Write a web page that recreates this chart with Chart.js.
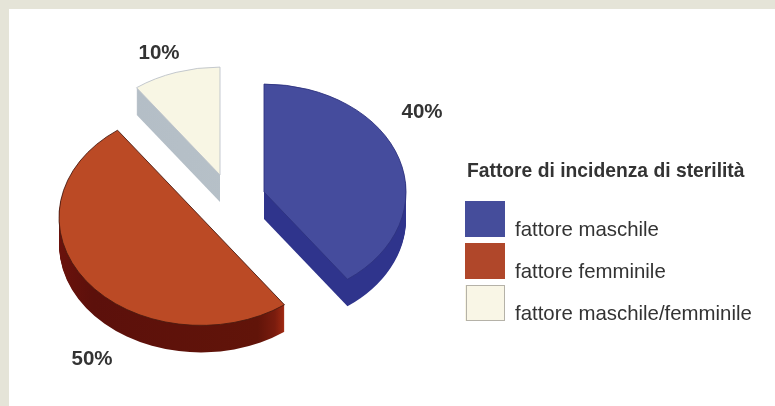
<!DOCTYPE html>
<html>
<head>
<meta charset="utf-8">
<title>Fattore di incidenza di sterilità</title>
<script src="https://cdn.jsdelivr.net/npm/chart.js@4/dist/chart.umd.min.js"></script>
<style>
  html, body { margin: 0; padding: 0; background: #e5e4d8; overflow: hidden; }
  #chart { position: absolute; left: 9px; top: 9px; background: #fff; }
</style>
</head>
<body>
<canvas id="chart" width="766" height="397"></canvas>
<script>
var chartTitle = 'Fattore di incidenza di sterilità';
var categories = ['fattore maschile', 'fattore femminile', 'fattore maschile/femminile'];
var values = [40, 50, 10];

var topColors = ['#454c9d', '#bb4a25', '#f8f6e4'];
var edgeColors = ['#2f3380', '#4a1a10', '#bcc2ca'];
var legendColors = ['#454d9b', '#b0472a', '#f9f6e6'];

// slice look, not data: squash of the pie, rim height, how far each slice is pulled out
var squash = 0.76;
var rim = 27;
var pull = [[32, -8], [-31, 17.5], [-12, -25]];
// label anchors, canvas px
var labelPos = [[413, 103], [83, 350], [150, 44]];

function wallFill(ctx, i, x, r) {
  var g = ctx.createLinearGradient(x - r, 0, x + r, 0);
  if (i == 0) {
    g.addColorStop(0, '#2f348c');
    g.addColorStop(1, '#2f348c');
  } else if (i == 1) {
    g.addColorStop(0, '#6a120c');
    g.addColorStop(0.12, '#5c100b');
    g.addColorStop(0.7, '#611409');
    g.addColorStop(0.76, '#7a1c0e');
    g.addColorStop(0.8, '#a82c12');
  } else {
    g.addColorStop(0, '#a0abbd');
    g.addColorStop(0.05, '#b3bdc6');
    g.addColorStop(1, '#b9c3c9');
  }
  return g;
}

var pie3d = {
  id: 'pie3d',
  beforeDatasetDraw: function(chart) {
    var ctx = chart.ctx;
    var arcs = chart.getDatasetMeta(0).data;
    arcs.forEach(function(arc, i) {
      var x = arc.x + pull[i][0];
      var y = arc.y + pull[i][1];
      var r = arc.outerRadius;

      // rim: same outline stacked downwards
      ctx.save();
      ctx.fillStyle = wallFill(ctx, i, x, r);
      for (var d = rim; d > 0; d--) {
        ctx.beginPath();
        ctx.moveTo(x, y + d);
        ctx.ellipse(x, y + d, r, r * squash, 0, arc.startAngle, arc.endAngle);
        ctx.closePath();
        ctx.fill();
      }
      ctx.restore();

      // top face is the chart's own arc, squashed
      ctx.save();
      ctx.translate(x, y);
      ctx.scale(1, squash);
      ctx.translate(-arc.x, -arc.y);
      arc.draw(ctx);
      ctx.restore();
    });
    return false;
  },
  afterDraw: function(chart) {
    var ctx = chart.ctx;
    ctx.save();
    ctx.fillStyle = '#333';

    ctx.font = 'bold 20.5px "Liberation Sans"';
    ctx.textAlign = 'center';
    ctx.textBaseline = 'middle';
    values.forEach(function(v, i) {
      ctx.fillText(v + '%', labelPos[i][0], labelPos[i][1]);
    });

    ctx.textAlign = 'left';
    ctx.textBaseline = 'alphabetic';
    ctx.font = 'bold 19.3px "Liberation Sans"';
    ctx.fillText(chartTitle, 458, 168);

    categories.forEach(function(c, i) {
      var top = 192 + i * 42;
      ctx.fillStyle = legendColors[i];
      ctx.fillRect(456, top, 40, 36);
      if (i == 2) {
        ctx.strokeStyle = '#b5b2a8';
        ctx.lineWidth = 1;
        ctx.strokeRect(457.5, top + 0.5, 38, 35);
      }
      ctx.fillStyle = '#333';
      ctx.font = '20.4px "Liberation Sans"';
      ctx.fillText(c, 506, 227 + i * 42);
    });
    ctx.restore();
  }
};

new Chart(document.getElementById('chart'), {
  type: 'pie',
  data: {
    labels: categories,
    datasets: [{
      data: values,
      backgroundColor: topColors,
      borderColor: edgeColors,
      borderWidth: 1
    }]
  },
  options: {
    responsive: false,
    animation: false,
    radius: 142,
    layout: { padding: { right: 320, bottom: 15 } },
    plugins: { legend: { display: false }, tooltip: { enabled: false } }
  },
  plugins: [pie3d]
});
</script>
</body>
</html>
